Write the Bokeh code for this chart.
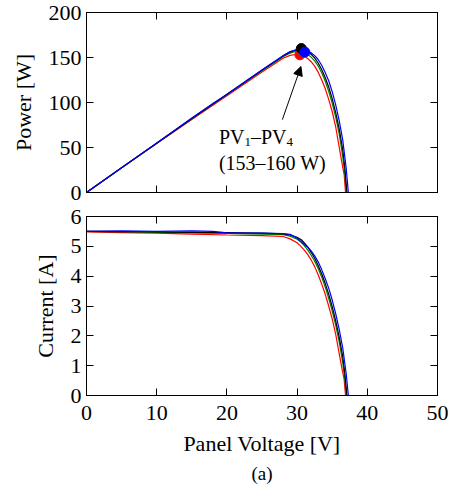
from bokeh.plotting import figure
from bokeh.layouts import column
from bokeh.models import LinearAxis, Range1d, FixedTicker, Arrow, NormalHead, Label, Title
from bokeh.embed import file_html
from bokeh.resources import INLINE

FONT = "Liberation Serif"

# ---- data ----
v_red = [0, 5, 10, 15, 20, 25, 28, 29, 30, 30.4, 31, 31.5, 32, 32.5, 33, 33.5, 34, 34.5, 35, 35.5, 36, 36.4, 36.7, 36.9]
i_red = [5.48, 5.46, 5.44, 5.41, 5.38, 5.36, 5.33, 5.25, 5.12, 5.03, 4.88, 4.73, 4.54, 4.32, 4.05, 3.74, 3.40, 3.00, 2.57, 2.05, 1.40, 0.89, 0.55, 0.0]
p_red = [0, 27.4, 54.4, 81.2, 107.6, 134.0, 149.2, 152.3, 153.6, 152.9, 151.3, 149.0, 145.3, 140.4, 133.7, 125.3, 115.6, 103.5, 90.0, 72.8, 50.4, 32.4, 20.2, 0]

v_green = [0, 5, 10, 15, 20, 25, 28, 29, 30, 30.5, 31, 31.5, 32, 32.5, 33, 33.5, 34, 34.5, 35, 35.5, 36, 36.5, 36.8, 37.0]
i_green = [5.50, 5.49, 5.47, 5.45, 5.43, 5.41, 5.39, 5.34, 5.24, 5.15, 5.03, 4.88, 4.70, 4.50, 4.26, 3.97, 3.64, 3.26, 2.84, 2.36, 1.80, 1.10, 0.55, 0.0]
p_green = [0, 27.5, 54.7, 81.8, 108.6, 135.3, 150.9, 154.9, 157.2, 157.1, 155.9, 153.7, 150.4, 146.3, 140.6, 133.0, 123.8, 112.5, 99.4, 83.8, 64.8, 40.2, 20.2, 0]

v_black = [0, 5, 10, 15, 20, 25, 28, 29, 30, 30.6, 31, 31.5, 32, 32.5, 33, 33.5, 34, 34.5, 35, 35.5, 36, 36.5, 36.8, 37.1]
i_black = [5.50, 5.49, 5.48, 5.47, 5.46, 5.44, 5.42, 5.38, 5.30, 5.22, 5.12, 4.98, 4.80, 4.60, 4.36, 4.08, 3.76, 3.40, 2.98, 2.50, 1.96, 1.30, 0.75, 0.0]
p_black = [0, 27.5, 54.8, 82.1, 109.2, 136.0, 151.8, 156.0, 159.0, 159.7, 158.7, 156.9, 153.6, 149.5, 143.9, 136.7, 127.8, 117.3, 104.3, 88.8, 70.6, 47.5, 27.6, 0]

v_blue = [0, 5, 10, 15, 18, 20, 25, 28, 29, 30, 31, 31.1, 31.5, 32, 32.5, 33, 33.5, 34, 34.5, 35, 35.5, 36, 36.5, 37.0, 37.3]
i_blue = [5.50, 5.52, 5.50, 5.52, 5.50, 5.45, 5.44, 5.43, 5.40, 5.28, 5.06, 5.04, 4.98, 4.85, 4.68, 4.48, 4.22, 3.92, 3.60, 3.20, 2.74, 2.22, 1.60, 0.72, 0.0]
p_blue = [0, 27.6, 55.0, 82.8, 99.0, 109.0, 136.0, 152.0, 156.6, 158.4, 156.9, 156.7, 156.9, 155.2, 152.1, 147.8, 141.4, 133.3, 124.2, 112.0, 97.3, 79.9, 58.4, 26.6, 0]

mpp_v = [30.4, 30.8, 30.6, 31.1]
mpp_p = [153, 157, 160, 156]
mpp_colors = ["#ff0000", "#008000", "#000000", "#0000ff"]

x_ticks = [0, 10, 20, 30, 40, 50]
p_ticks = [0, 50, 100, 150, 200]
i_ticks = [0, 1, 2, 3, 4, 5, 6]

series = [
    (v_red, i_red, p_red, "#ff0000"),
    (v_green, i_green, p_green, "#008000"),
    (v_black, i_black, p_black, "#000000"),
    (v_blue, i_blue, p_blue, "#0000ff"),
]


def style_axis(ax, ticks, show_labels):
    ax.ticker = FixedTicker(ticks=ticks)
    ax.major_tick_in = 7
    ax.major_tick_out = 0
    ax.minor_tick_in = 0
    ax.minor_tick_out = 0
    ax.axis_line_color = "black"
    ax.axis_line_width = 1
    ax.major_tick_line_color = "black"
    ax.major_tick_line_width = 1
    ax.major_label_text_font = FONT
    ax.axis_label_text_font = FONT
    ax.axis_label_text_font_style = "normal"
    ax.axis_label_text_font_size = "22px"
    ax.axis_label_text_color = "black"
    if show_labels:
        ax.major_label_text_font_size = "22px"
        ax.major_label_text_color = "black"
    else:
        ax.major_label_text_font_size = "0px"
        ax.major_label_text_color = None
        ax.major_label_standoff = 0


def make_fig(height, y_range, y_ticks, y_label, top_border, bottom_border, show_x):
    p = figure(width=453, height=height, output_backend="svg", toolbar_location=None,
               x_range=Range1d(0, 50), y_range=y_range,
               min_border_left=86, min_border_right=16,
               min_border_top=top_border, min_border_bottom=bottom_border)
    p.grid.visible = False
    p.outline_line_color = "black"
    p.outline_line_width = 1
    p.background_fill_color = "white"
    p.border_fill_color = "white"
    xb = p.below[0]
    yl = p.left[0]
    style_axis(xb, x_ticks, show_x)
    style_axis(yl, y_ticks, True)
    yl.axis_label = y_label
    yl.major_label_standoff = 5
    yl.axis_label_standoff = 10
    ax_r = LinearAxis()
    style_axis(ax_r, y_ticks, False)
    p.add_layout(ax_r, "right")
    ax_t = LinearAxis()
    style_axis(ax_t, x_ticks, False)
    p.add_layout(ax_t, "above")
    return p, xb


top, _ = make_fig(204, Range1d(0, 200), p_ticks, "Power [W]", 12, 12, False)
for v, i, pw, c in series:
    top.line(v, pw, line_color=c, line_width=1.2)
top.scatter(mpp_v, mpp_p, size=10, fill_color=mpp_colors, line_color=mpp_colors)
top.add_layout(Arrow(end=NormalHead(size=9, fill_color="black", line_color="black", line_width=1),
                     x_start=27.9, y_start=81, x_end=30.55, y_end=140,
                     line_color="black", line_width=1))

lab_x = 18.86
for txt, dx, dy, fs in [("PV", 0, 0, "20px"), ("1", 25.6, -5, "13px"),
                        ("\u2013PV", 32.1, 0, "20px"), ("4", 67.7, -5, "13px")]:
    top.add_layout(Label(x=lab_x, y=61.2, x_offset=dx, y_offset=dy, text=txt,
                         text_font=FONT, text_font_size=fs, text_color="black",
                         text_align="left", text_baseline="alphabetic"))
top.add_layout(Label(x=lab_x, y=32.6, text="(153\u2013160 W)", text_font=FONT,
                     text_font_size="20px", text_color="black",
                     text_align="left", text_baseline="alphabetic"))

bottom, bx = make_fig(288, Range1d(0, 6), i_ticks, "Current [A]", 12, 97, True)
bx.axis_label = "Panel Voltage [V]"
bx.major_label_standoff = 10
bx.axis_label_standoff = 8
for v, i, pw, c in series:
    bottom.line(v, i, line_color=c, line_width=1.2)
bottom.add_layout(Title(text="(a)", align="center", text_font=FONT, text_font_size="19px",
                        text_font_style="normal", text_color="black", standoff=4), "below")

layout = column(top, bottom, spacing=0)
open("out.html", "w").write(file_html(layout, INLINE))
